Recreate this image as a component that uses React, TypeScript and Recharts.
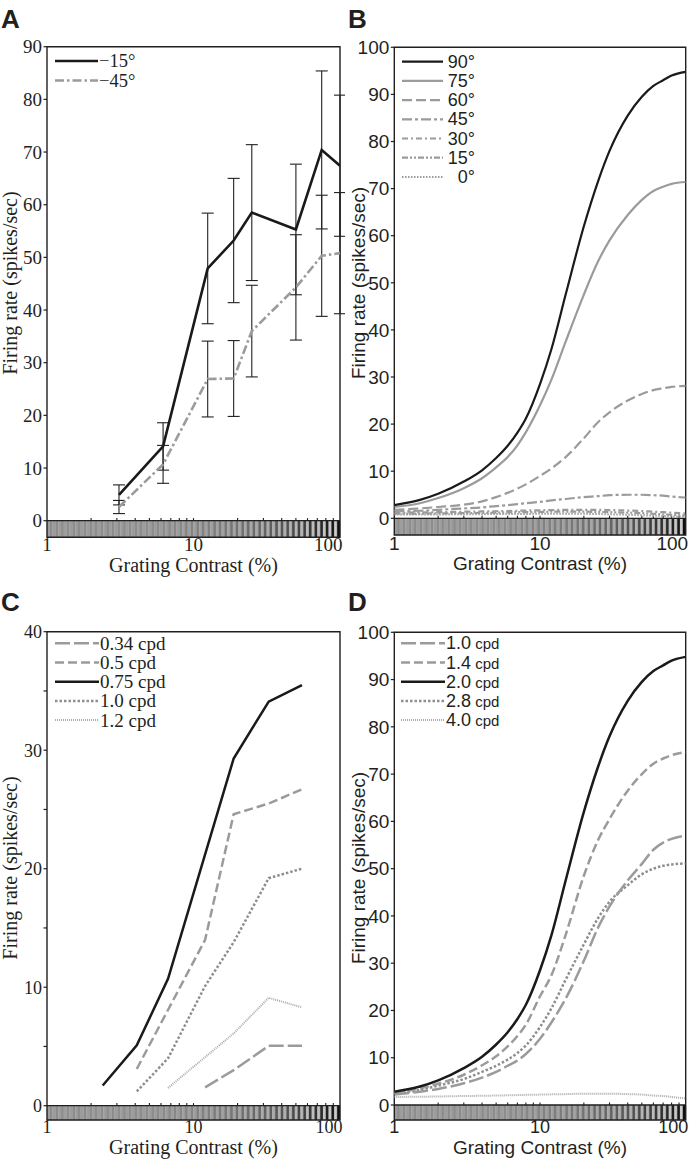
import React from 'react';
import { LineChart, Line, XAxis, YAxis, ReferenceArea, ReferenceLine, ErrorBar } from 'recharts';

// ---------------- DATA ----------------
// Panel A: measured responses (mean ± error) at each grating contrast (%)
const contrastA = [3.1, 6.2, 12.5, 18.8, 25, 50, 75, 100];
const rateAm15 = [4.9, 14.1, 47.9, 53.2, 58.5, 55.3, 70.4, 67.4];
const errAm15 = [1.9, 4.5, 10.5, 11.8, 12.9, 12.4, 15.0, 13.4];
const rateAm45 = [2.6, 10.7, 26.9, 27.0, 36.0, 44.3, 50.3, 50.8];
const errAm45 = [1.25, 3.6, 7.2, 7.2, 8.7, 10.0, 11.5, 11.5];

// Panel B: model responses by orientation
const contrastB = [1, 1.5, 2, 3, 4, 5, 6, 7, 8, 10, 12, 15, 20, 25, 30, 40, 50, 60, 70, 80, 100];
const rateB90 = [2.8, 3.9, 5.2, 7.8, 10.2, 12.8, 15.4, 18.2, 21.2, 28.5, 36, 47.5, 62, 71.5, 78, 85.5, 89.5, 91.8, 93, 94, 94.8];
const rateB75 = [2.4, 3.2, 4.3, 6.4, 8.5, 10.8, 13, 15.5, 18.3, 24, 29.5, 37.5, 47.5, 54.5, 59, 64.4, 67.6, 69.5, 70.4, 71, 71.4];
const rateB60 = [1.8, 2.1, 2.4, 2.9, 3.6, 4.5, 5.4, 6.3, 7.2, 9.0, 10.6, 13, 17, 20.4, 22.5, 25, 26.4, 27.2, 27.6, 27.9, 28.1];
const rateB45 = [1.5, 1.6, 1.8, 2.1, 2.3, 2.6, 2.8, 3.0, 3.2, 3.5, 3.8, 4.1, 4.5, 4.7, 4.9, 5.0, 5.0, 4.9, 4.8, 4.6, 4.4];
const rateB30 = [1.2, 1.25, 1.3, 1.4, 1.45, 1.5, 1.55, 1.6, 1.65, 1.7, 1.75, 1.8, 1.8, 1.8, 1.75, 1.65, 1.55, 1.4, 1.3, 1.2, 1.0];
const rateB15 = [1.0, 1.0, 1.05, 1.1, 1.15, 1.2, 1.25, 1.3, 1.3, 1.35, 1.4, 1.4, 1.4, 1.35, 1.3, 1.2, 1.1, 0.95, 0.85, 0.75, 0.6];
const rateB0 = [0.8, 0.8, 0.82, 0.85, 0.87, 0.9, 0.9, 0.92, 0.93, 0.95, 0.95, 0.95, 0.95, 0.9, 0.85, 0.75, 0.65, 0.55, 0.5, 0.4, 0.3];

// Panel C: measured responses by spatial frequency
const contrastC = [2.4, 4.1, 6.7, 12, 18.8, 32.6, 55];
const rateC034 = [null, null, null, 1.55, 3.0, 5.05, 5.05];
const rateC05 = [null, 3.1, null, 14.0, 24.6, 25.5, 26.7];
const rateC075 = [1.7, 5.1, 10.7, null, 29.3, 34.1, 35.5];
const rateC10 = [null, 1.2, 4.0, 10.1, 13.8, 19.2, 20.0];
const rateC12 = [null, null, 1.5, null, 6.1, 9.1, 8.3];

// Panel D: model responses by spatial frequency
const contrastD = [1, 1.5, 2, 3, 4, 5, 6, 7, 8, 10, 12, 15, 20, 25, 30, 40, 50, 60, 70, 80, 100];
const rateD10 = [2.2, 2.8, 3.4, 4.6, 5.8, 7.0, 8.3, 9.4, 10.8, 14, 17.5, 22.5, 30.5, 37.5, 42, 47.5, 51, 54, 55.5, 56.3, 57];
const rateD14 = [2.7, 3.5, 4.5, 6.4, 8.4, 10.3, 12.4, 14.6, 17, 23, 27.5, 36, 48.5, 56, 60.5, 66.5, 70, 72.2, 73.3, 74, 74.7];
const rateD20 = [2.8, 3.9, 5.2, 7.8, 10.2, 12.8, 15.4, 18.2, 21.2, 28.5, 36, 47.5, 62, 71.5, 78, 85.5, 89.5, 91.8, 93, 94, 94.8];
const rateD28 = [2.5, 3.2, 4.1, 5.5, 7.0, 8.3, 9.6, 11, 12.6, 16.5, 20.5, 26.5, 34, 39.5, 43, 46.5, 48.8, 50, 50.6, 50.9, 51.1];
const rateD40 = [1.7, 1.75, 1.8, 1.9, 1.95, 2.0, 2.05, 2.1, 2.15, 2.2, 2.25, 2.3, 2.4, 2.4, 2.4, 2.3, 2.2, 2.0, 1.9, 1.7, 1.4];

const xTickValues = [1, 10, 100];
const minorXTicks = [2, 3, 4, 5, 6, 7, 8, 9, 10, 20, 30, 40, 50, 60, 70, 80, 90];
const yTicks90 = [0, 10, 20, 30, 40, 50, 60, 70, 80, 90];
const yTicks100 = [0, 10, 20, 30, 40, 50, 60, 70, 80, 90, 100];
const yTicks40 = [0, 5, 10, 15, 20, 25, 30, 35, 40];

// ---------------- STYLE ----------------
const SERIF = '"Liberation Serif", "Times New Roman", Times, serif';
const SANS = '"Liberation Sans", Arial, Helvetica, sans-serif';
const INK = '#231f20';
const BLACK = '#1a1a1a';
const GRAY = '#9b9b9b';
const GRAY_D = '#8e8e8e';
const GRAY_L = '#aaaaaa';

type Series = {
  key: string;
  label: string;
  values: (number | null)[];
  err?: number[];
  color: string;
  dash?: string;
  width: number;
};

const seriesA: Series[] = [
  { key: 'm15', label: '\u221215\u00b0', values: rateAm15, err: errAm15, color: BLACK, width: 2.6 },
  { key: 'm45', label: '\u221245\u00b0', values: rateAm45, err: errAm45, color: GRAY, dash: '9 3 2.5 3', width: 2.6 },
];
const seriesB: Series[] = [
  { key: 'o0', label: '0\u00b0', values: rateB0, color: GRAY, dash: '1.5 1.5', width: 2 },
  { key: 'o15', label: '15\u00b0', values: rateB15, color: GRAY, dash: '6 2 2 2 2 2', width: 2.2 },
  { key: 'o30', label: '30\u00b0', values: rateB30, color: GRAY, dash: '6 3 2 3', width: 2.2 },
  { key: 'o45', label: '45\u00b0', values: rateB45, color: GRAY, dash: '10 3 3 3', width: 2.2 },
  { key: 'o60', label: '60\u00b0', values: rateB60, color: GRAY, dash: '10 4', width: 2.2 },
  { key: 'o75', label: '75\u00b0', values: rateB75, color: GRAY, width: 2.2 },
  { key: 'o90', label: '90\u00b0', values: rateB90, color: BLACK, width: 2.2 },
];
const seriesC: Series[] = [
  { key: 's034', label: '0.34 cpd', values: rateC034, color: GRAY, dash: '15 4', width: 2.5 },
  { key: 's05', label: '0.5 cpd', values: rateC05, color: GRAY, dash: '9 4', width: 2.5 },
  { key: 's075', label: '0.75 cpd', values: rateC075, color: BLACK, width: 2.5 },
  { key: 's10', label: '1.0 cpd', values: rateC10, color: GRAY_D, dash: '2.5 2', width: 2.5 },
  { key: 's12', label: '1.2 cpd', values: rateC12, color: GRAY_L, dash: '1 1', width: 2 },
];
const seriesD: Series[] = [
  { key: 'd40', label: '4.0|cpd', values: rateD40, color: GRAY_L, dash: '1 1', width: 2 },
  { key: 'd28', label: '2.8|cpd', values: rateD28, color: GRAY_D, dash: '2.5 2', width: 2.5 },
  { key: 'd10', label: '1.0|cpd', values: rateD10, color: GRAY, dash: '15 4', width: 2.5 },
  { key: 'd14', label: '1.4|cpd', values: rateD14, color: GRAY, dash: '9 4', width: 2.5 },
  { key: 'd20', label: '2.0|cpd', values: rateD20, color: BLACK, width: 2.5 },
];

// legend order (top to bottom)
const legendOrderA = ['m15', 'm45'];
const legendOrderB = ['o90', 'o75', 'o60', 'o45', 'o30', 'o15', 'o0'];
const legendOrderC = ['s034', 's05', 's075', 's10', 's12'];
const legendOrderD = ['d10', 'd14', 'd20', 'd28', 'd40'];

// ---------------- HELPERS ----------------
function buildRows(xs: number[], series: Series[]) {
  return xs.map((c, i) => {
    const r: any = { c };
    series.forEach((s) => {
      r[s.key] = s.values[i];
      if (s.err) r[s.key + '_e'] = s.err[i];
    });
    return r;
  });
}

// decorative grating strip (contrast increases left to right)
function makeGrating(n: number) {
  const out: { x1: number; x2: number; fill: string }[] = [];
  const g = (v: number) => {
    const h = Math.max(0, Math.min(255, Math.round(v))).toString(16).padStart(2, '0');
    return '#' + h + h + h;
  };
  for (let k = 0; k < n; k++) {
    const t0 = (2 * k) / n;
    const tm = (2 * (k + 0.5)) / n;
    const t1 = (2 * (k + 1)) / n;
    const c = Math.pow(10, (t0 + t1) / 2);
    const m = Math.max(0.05, c / 100);
    out.push({ x1: Math.pow(10, t0), x2: Math.pow(10, tm), fill: g(154 + 52 * m) });
    out.push({ x1: Math.pow(10, tm), x2: Math.pow(10, t1), fill: g(154 - 144 * Math.pow(m, 0.8)) });
  }
  return out;
}
const grating = makeGrating(52);

type PanelCfg = {
  left: number; top: number; width: number; height: number;
  plotLeft: number; plotRight: number; plotTop: number; zeroY: number; plotBottom: number;
  yMax: number; yTicks: number[]; labelEvery: number;
  font: string; yTickSize: number; xTickSize: number; xTickMargin: number;
  curve: 'linear' | 'monotone';
  xs: number[]; series: Series[];
};

function XTick(props: any) {
  const { x, y, payload, font, size } = props;
  const v = payload.value;
  const anchor = v === 100 ? 'end' : 'middle';
  const xx = v === 100 ? x + 2.5 : x;
  return (
    <text x={xx} y={y} dy="0.71em" textAnchor={anchor} fontFamily={font} fontSize={size} fill={INK}>
      {v}
    </text>
  );
}

function Panel({ p }: { p: PanelCfg }) {
  const ppu = (p.zeroY - p.plotTop) / p.yMax;
  const yMin = -(p.plotBottom - p.zeroY) / ppu;
  const tickLen = 2.6 / ppu;
  const margin = {
    top: p.plotTop - p.top,
    left: p.plotLeft - p.left - 40,
    right: p.left + p.width - p.plotRight,
    bottom: p.top + p.height - p.plotBottom - 30,
  };
  const rows = buildRows(p.xs, p.series);
  return (
    <div style={{ position: 'absolute', left: p.left, top: p.top, width: p.width, height: p.height }}>
      <LineChart width={p.width} height={p.height} data={rows} margin={margin}>
        <XAxis
          type="number"
          dataKey="c"
          scale="log"
          domain={[1, 100]}
          ticks={xTickValues}
          allowDataOverflow
          height={30}
          axisLine={false}
          tickLine={false}
          tickSize={0}
          tickMargin={p.xTickMargin}
          interval={0}
          tick={(props: any) => <XTick {...props} font={p.font} size={p.xTickSize} />}
        />
        <YAxis
          type="number"
          domain={[yMin, p.yMax]}
          ticks={p.yTicks}
          allowDataOverflow
          width={40}
          axisLine={false}
          tickSize={3.5}
          tickMargin={1.5}
          interval={0}
          tickLine={{ stroke: INK, strokeWidth: 1.2 }}
          tick={{ fontFamily: p.font, fontSize: p.yTickSize, fill: INK }}
          tickFormatter={(v: number) => (Math.abs(v % p.labelEvery) < 1e-9 ? String(v) : '')}
        />
        {grating.map((s, i) => (
          <ReferenceArea key={'g' + i} x1={s.x1} x2={s.x2} y1={yMin} y2={0} fill={s.fill} fillOpacity={1} stroke={s.fill} strokeWidth={0.3} />
        ))}
        <ReferenceLine y={0} stroke={INK} strokeWidth={1.3} />
        {minorXTicks.map((t) => (
          <ReferenceLine key={'t' + t} segment={[{ x: t, y: 0 }, { x: t, y: tickLen }]} stroke={INK} strokeWidth={1.1} />
        ))}
        {p.series.map((s) => (
          <Line
            key={s.key}
            dataKey={s.key}
            type={p.curve}
            stroke={s.color}
            strokeWidth={s.width}
            strokeDasharray={s.dash}
            dot={false}
            activeDot={false}
            connectNulls
            isAnimationActive={false}
          >
            {s.err ? (
              <ErrorBar dataKey={s.key + '_e'} width={6} stroke={INK} strokeWidth={1.1} direction="y" isAnimationActive={false} />
            ) : null}
          </Line>
        ))}
        <ReferenceArea x1={1} x2={100} y1={yMin} y2={p.yMax} fill="none" fillOpacity={0} stroke={INK} strokeWidth={1.4} ifOverflow="visible" />
      </LineChart>
    </div>
  );
}

const panelA: PanelCfg = {
  left: 0, top: 0, width: 345, height: 580,
  plotLeft: 47, plotRight: 340, plotTop: 46.7, zeroY: 520.7, plotBottom: 537.3,
  yMax: 90, yTicks: yTicks90, labelEvery: 10,
  font: SERIF, yTickSize: 19, xTickSize: 19, xTickMargin: 0.5, curve: 'linear',
  xs: contrastA, series: seriesA,
};
const panelB: PanelCfg = {
  left: 345, top: 0, width: 346, height: 580,
  plotLeft: 394.3, plotRight: 685.7, plotTop: 47.3, zeroY: 518.3, plotBottom: 535,
  yMax: 100, yTicks: yTicks100, labelEvery: 10,
  font: SANS, yTickSize: 19, xTickSize: 19, xTickMargin: 1.5, curve: 'monotone',
  xs: contrastB, series: seriesB,
};
const panelC: PanelCfg = {
  left: 0, top: 580, width: 345, height: 581,
  plotLeft: 47, plotRight: 340, plotTop: 631.7, zeroY: 1105.7, plotBottom: 1120,
  yMax: 40, yTicks: yTicks40, labelEvery: 10,
  font: SERIF, yTickSize: 18, xTickSize: 18, xTickMargin: 0, curve: 'linear',
  xs: contrastC, series: seriesC,
};
const panelD: PanelCfg = {
  left: 345, top: 580, width: 346, height: 581,
  plotLeft: 394.3, plotRight: 685.7, plotTop: 632.3, zeroY: 1105, plotBottom: 1120,
  yMax: 100, yTicks: yTicks100, labelEvery: 10,
  font: SANS, yTickSize: 19, xTickSize: 18, xTickMargin: 0.5, curve: 'monotone',
  xs: contrastD, series: seriesD,
};

type LegendCfg = {
  order: string[]; series: Series[]; y0: number; dy: number;
  x1: number; x2: number; textX: number; anchor: 'start' | 'end';
  font: string; size: number; small?: number;
};

function LegendBlock({ l }: { l: LegendCfg }) {
  return (
    <g>
      {l.order.map((k, i) => {
        const s = l.series.find((q) => q.key === k)!;
        const y = l.y0 + i * l.dy;
        const parts = s.label.split('|');
        return (
          <g key={k}>
            <line x1={l.x1} x2={l.x2} y1={y} y2={y} stroke={s.color} strokeWidth={s.width} strokeDasharray={s.dash} />
            <text x={l.textX} y={y} dominantBaseline="central" textAnchor={l.anchor} fontFamily={l.font} fontSize={l.size} fill={INK}>
              {parts[0]}
              {parts[1] ? <tspan fontSize={l.small}>{' ' + parts[1]}</tspan> : null}
            </text>
          </g>
        );
      })}
    </g>
  );
}

const legends: LegendCfg[] = [
  { order: legendOrderA, series: seriesA, y0: 61, dy: 19.5, x1: 55, x2: 98, textX: 99, anchor: 'start', font: SERIF, size: 18.5 },
  { order: legendOrderB, series: seriesB, y0: 61.7, dy: 19.2, x1: 402, x2: 443, textX: 475, anchor: 'end', font: SANS, size: 18 },
  { order: legendOrderC, series: seriesC, y0: 643.3, dy: 19.2, x1: 55, x2: 99, textX: 100, anchor: 'start', font: SERIF, size: 19 },
  { order: legendOrderD, series: seriesD, y0: 643.3, dy: 19.2, x1: 401, x2: 445, textX: 446, anchor: 'start', font: SANS, size: 18, small: 15 },
];

const yTitles = [
  { x: 17, y: 283, font: SERIF, size: 20 },
  { x: 365, y: 283, font: SANS, size: 19 },
  { x: 17, y: 868, font: SERIF, size: 20 },
  { x: 365, y: 868, font: SANS, size: 19 },
];
const xTitles = [
  { x: 193.5, y: 572, font: SERIF, size: 20 },
  { x: 540, y: 570, font: SANS, size: 19 },
  { x: 193.5, y: 1154, font: SERIF, size: 20 },
  { x: 540, y: 1154, font: SANS, size: 19 },
];
const letters = [
  { t: 'A', x: 1, y: 28 },
  { t: 'B', x: 348, y: 28 },
  { t: 'C', x: 1, y: 611 },
  { t: 'D', x: 348, y: 611 },
];

export default function App() {
  return (
    <div style={{ position: 'absolute', left: 0, top: 0, width: 691, height: 1161, background: '#fff', overflow: 'hidden' }}>
      <Panel p={panelA} />
      <Panel p={panelB} />
      <Panel p={panelC} />
      <Panel p={panelD} />
      <svg width={691} height={1161} style={{ position: 'absolute', left: 0, top: 0, pointerEvents: 'none' }}>
        {legends.map((l, i) => (
          <LegendBlock key={i} l={l} />
        ))}
        {yTitles.map((t, i) => (
          <text key={'yt' + i} x={t.x} y={t.y} transform={`rotate(-90 ${t.x} ${t.y})`} textAnchor="middle" fontFamily={t.font} fontSize={t.size} fill={INK}>
            Firing rate (spikes/sec)
          </text>
        ))}
        {xTitles.map((t, i) => (
          <text key={'xt' + i} x={t.x} y={t.y} textAnchor="middle" fontFamily={t.font} fontSize={t.size} fill={INK}>
            Grating Contrast (%)
          </text>
        ))}
        {letters.map((l) => (
          <text key={l.t} x={l.x} y={l.y} fontFamily={SANS} fontWeight="bold" fontSize={26} fill={INK}>
            {l.t}
          </text>
        ))}
      </svg>
    </div>
  );
}
